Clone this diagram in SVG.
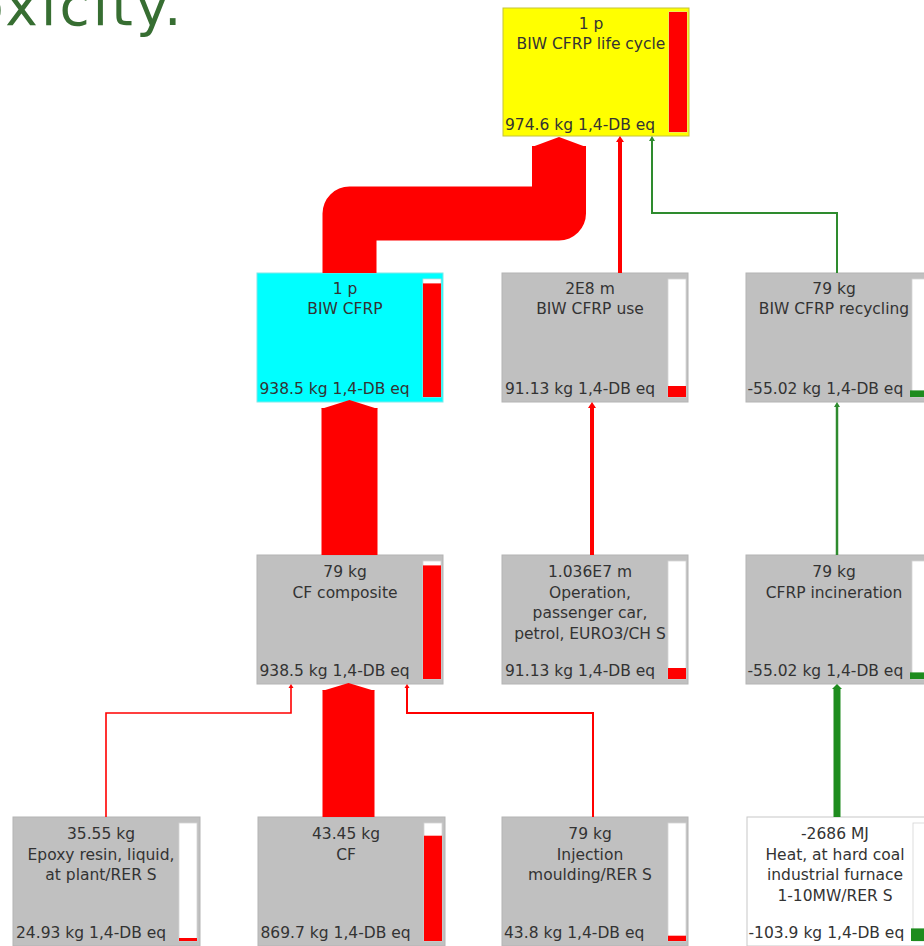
<svg xmlns="http://www.w3.org/2000/svg" width="924" height="946" viewBox="0 0 924 946">
<style>
.box{stroke:#b4b4b4;stroke-width:1}
.gray{fill:#c0c0c0}
.cyan{fill:#00ffff;stroke:#7fe8e8}
.yellow{fill:#ffff00;stroke:#c4c43a}
.white{fill:#ffffff;stroke:#c8c8c8}
.bar{fill:#ffffff;stroke:#d4d4d4;stroke-width:0.8}
.red{fill:#ff0000}
.grn{fill:#1e8c1e}
.t{font-family:"DejaVu Sans","Liberation Sans",sans-serif;font-size:15.5px;fill:#333333}
.c{text-anchor:middle}
.lr{fill:none;stroke:#ff0000}
.lg{fill:none;stroke:#2e8b2e}
.title{font-family:"DejaVu Sans","Liberation Sans",sans-serif;font-size:55px;fill:#376e32;letter-spacing:3.2px}
</style>
<rect width="924" height="946" fill="#ffffff"/>
<text class="title" x="-30" y="25">oxicity.</text>

<g id="n-top">
<rect class="box yellow" x="503" y="8" width="186" height="128"/>
<rect class="bar" x="669" y="12" width="18" height="120"/>
<rect class="red" x="669" y="12" width="18" height="120"/>
<text class="t c" x="591" y="29">1 p</text>
<text class="t c" x="591" y="49">BIW CFRP life cycle</text>
<text class="t" x="505" y="130">974.6 kg 1,4-DB eq</text>
</g>

<g id="n-biw">
<rect class="box cyan" x="257" y="273" width="186" height="129"/>
<rect class="bar" x="423" y="279" width="18" height="118"/>
<rect class="red" x="423" y="283.4" width="18" height="113.6"/>
<text class="t c" x="345" y="294">1 p</text>
<text class="t c" x="345" y="314">BIW CFRP</text>
<text class="t" x="259.5" y="394">938.5 kg 1,4-DB eq</text>
</g>

<g id="n-use">
<rect class="box gray" x="502" y="273" width="186" height="129"/>
<rect class="bar" x="668" y="279" width="18" height="118"/>
<rect class="red" x="668" y="386" width="18" height="11"/>
<text class="t c" x="590" y="294">2E8 m</text>
<text class="t c" x="590" y="314">BIW CFRP use</text>
<text class="t" x="505" y="394">91.13 kg 1,4-DB eq</text>
</g>

<g id="n-recycling">
<rect class="box gray" x="746" y="273" width="186" height="129"/>
<rect class="bar" x="912" y="279" width="18" height="118"/>
<rect class="grn" x="910" y="390.4" width="20" height="6.6"/>
<text class="t c" x="834" y="294">79 kg</text>
<text class="t c" x="834" y="314">BIW CFRP recycling</text>
<text class="t" x="747.5" y="394">-55.02 kg 1,4-DB eq</text>
</g>

<g id="n-cfcomposite">
<rect class="box gray" x="257" y="555" width="186" height="129"/>
<rect class="bar" x="423" y="561" width="18" height="118"/>
<rect class="red" x="423" y="565.4" width="18" height="113.6"/>
<text class="t c" x="345" y="577">79 kg</text>
<text class="t c" x="345" y="597.5">CF composite</text>
<text class="t" x="259.5" y="676">938.5 kg 1,4-DB eq</text>
</g>

<g id="n-operation">
<rect class="box gray" x="502" y="555" width="186" height="129"/>
<rect class="bar" x="668" y="561" width="18" height="118"/>
<rect class="red" x="668" y="668" width="18" height="11"/>
<text class="t c" x="590" y="577">1.036E7 m</text>
<text class="t c" x="590" y="597.5">Operation,</text>
<text class="t c" x="590" y="618">passenger car,</text>
<text class="t c" x="590" y="638.5">petrol, EURO3/CH S</text>
<text class="t" x="505" y="676">91.13 kg 1,4-DB eq</text>
</g>

<g id="n-incineration">
<rect class="box gray" x="746" y="555" width="186" height="129"/>
<rect class="bar" x="912" y="561" width="18" height="118"/>
<rect class="grn" x="910" y="672.4" width="20" height="6.6"/>
<text class="t c" x="834" y="577">79 kg</text>
<text class="t c" x="834" y="597.5">CFRP incineration</text>
<text class="t" x="747.5" y="676">-55.02 kg 1,4-DB eq</text>
</g>

<g id="n-epoxy">
<rect class="box gray" x="13" y="817" width="187" height="129"/>
<rect class="bar" x="179" y="823" width="18" height="118"/>
<rect class="red" x="179" y="938" width="18" height="3"/>
<text class="t c" x="101" y="839">35.55 kg</text>
<text class="t c" x="101" y="859.5">Epoxy resin, liquid,</text>
<text class="t c" x="101" y="880">at plant/RER S</text>
<text class="t" x="16" y="938">24.93 kg 1,4-DB eq</text>
</g>

<g id="n-cf">
<rect class="box gray" x="258" y="817" width="187" height="129"/>
<rect class="bar" x="424" y="823" width="18" height="118"/>
<rect class="red" x="424" y="835.7" width="18" height="105.3"/>
<text class="t c" x="346" y="839">43.45 kg</text>
<text class="t c" x="346" y="859.5">CF</text>
<text class="t" x="260.5" y="938">869.7 kg 1,4-DB eq</text>
</g>

<g id="n-injection">
<rect class="box gray" x="502" y="817" width="186" height="129"/>
<rect class="bar" x="668" y="823" width="18" height="118"/>
<rect class="red" x="668" y="935.7" width="18" height="5.3"/>
<text class="t c" x="590" y="839">79 kg</text>
<text class="t c" x="590" y="859.5">Injection</text>
<text class="t c" x="590" y="880">moulding/RER S</text>
<text class="t" x="504" y="938">43.8 kg 1,4-DB eq</text>
</g>

<g id="n-heat">
<rect class="box white" x="747" y="817" width="186" height="129"/>
<rect class="bar" x="913" y="823" width="18" height="118"/>
<rect class="grn" x="911" y="928.4" width="20" height="12.6"/>
<text class="t c" x="835" y="839">-2686 MJ</text>
<text class="t c" x="835" y="859.5">Heat, at hard coal</text>
<text class="t c" x="835" y="880">industrial furnace</text>
<text class="t c" x="835" y="900.5">1-10MW/RER S</text>
<text class="t" x="748.5" y="938">-103.9 kg 1,4-DB eq</text>
</g>

<g id="connectors">
<path d="M559,146 V213.5 H349.5 V273" fill="none" stroke="#ff0000" stroke-width="54" stroke-linejoin="round"/>
<polygon class="red" points="532,147 559,137 586,147"/>
<line class="lr" x1="620" y1="273" x2="620" y2="141" stroke-width="4"/>
<polygon class="red" points="616,142 620,136 624,142"/>
<polyline class="lg" points="837,273 837,213 652,213 652,140" stroke-width="2"/>
<polygon points="649,141 652,136 655,141" fill="#2e8b2e"/>
<line x1="349.5" y1="555" x2="349.5" y2="408" stroke="#ff0000" stroke-width="56"/>
<polygon class="red" points="321,409 349.5,400 378,409"/>
<line class="lr" x1="592" y1="555" x2="592" y2="407" stroke-width="4"/>
<polygon class="red" points="588,408 592,402 596,408"/>
<line class="lg" x1="837" y1="555" x2="837" y2="406" stroke-width="2.5"/>
<polygon points="834,407 837,402 840,407" fill="#2e8b2e"/>
<line x1="837" y1="817" x2="837" y2="688" stroke="#1e8c1e" stroke-width="7"/>
<polygon points="832,689 837,684 842,689" fill="#1e8c1e"/>
<polyline class="lr" points="106,817 106,713 291,713 291,687" stroke-width="1.6"/>
<polygon class="red" points="288.5,688 291,684 293.5,688"/>
<line x1="348.5" y1="817" x2="348.5" y2="690" stroke="#ff0000" stroke-width="52"/>
<polygon class="red" points="322,691 348.5,683 375,691"/>
<polyline class="lr" points="593,817 593,713 407,713 407,687" stroke-width="2"/>
<polygon class="red" points="404.5,688 407,684 409.5,688"/>
</g>
</svg>
